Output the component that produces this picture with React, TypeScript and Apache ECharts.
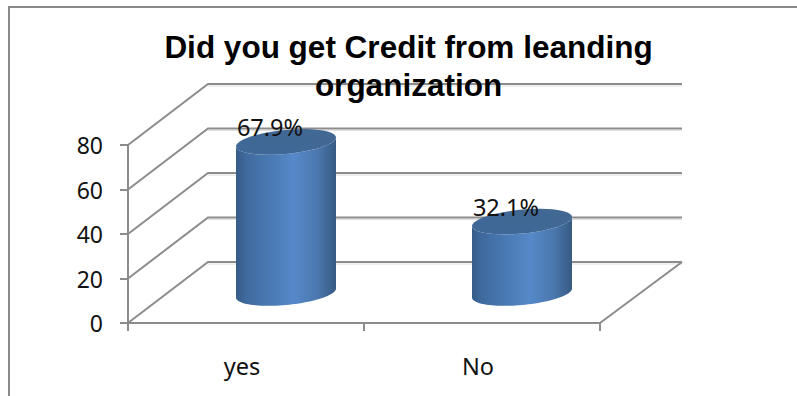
import React, { useEffect, useRef } from "react";
import * as echarts from "echarts";

const chartTitle = "Did you get Credit from leanding\norganization";
const categories = ["yes", "No"];
const creditShares = [67.9, 32.1];
const yTicks = [0, 20, 40, 60, 80];

const LABEL_FONT = "'Noto Sans', sans-serif";
const LINE = "#8c8c8c";
const SHADE = "#dedede";

// Oblique projection of the chart's floor.
const DEPTH_X = 80;
const DEPTH_Y = 61;
const BAR_DEPTH_X = 40;
const BAR_DEPTH_Y = 30;
const RADIUS_X = 50;
const RADIUS_Y = 12;
const TILT = -4.5 / 50;

// Points of a sheared ellipse between two angles.
function arcPoints(cx: number, cy: number, from: number, to: number): number[][] {
  const steps = 48;
  const pts: number[][] = [];
  for (let i = 0; i <= steps; i++) {
    const t = from + ((to - from) * i) / steps;
    const dx = RADIUS_X * Math.cos(t);
    pts.push([cx + dx, cy + dx * TILT + RADIUS_Y * Math.sin(t)]);
  }
  return pts;
}

const bodyFill = new echarts.graphic.LinearGradient(0, 0, 1, 0, [
  { offset: 0, color: "#365b86" },
  { offset: 0.1, color: "#3f6a9e" },
  { offset: 0.35, color: "#4a7ab5" },
  { offset: 0.58, color: "#5689c9" },
  { offset: 0.82, color: "#4a77ae" },
  { offset: 1, color: "#375a82" },
]);

const topFill = new echarts.graphic.LinearGradient(0, 1, 1, 0, [
  { offset: 0, color: "#3f6899" },
  { offset: 1, color: "#426892" },
]);

function renderFrame(params: any, api: any) {
  const rect = params.coordSys;
  const y = api.coord([0, api.value(1)])[1];
  const left = rect.x;
  const right = rect.x + rect.width;
  const isFloor = api.value(1) === yTicks[0];
  const backY = y - DEPTH_Y;
  const children: any[] = [
    {
      type: "polyline",
      shape: { points: [[left + DEPTH_X, backY + 2], [right + DEPTH_X + 2, backY + 2]] },
      style: { stroke: SHADE, lineWidth: 1, fill: "none" },
    },
    {
      type: "polyline",
      shape: { points: [[left, y], [left + DEPTH_X, backY], [right + DEPTH_X + 2, backY]] },
      style: { stroke: LINE, lineWidth: 2, fill: "none" },
    },
  ];
  if (isFloor) {
    children.push({
      type: "line",
      shape: { x1: right, y1: y, x2: right + DEPTH_X + 2, y2: backY },
      style: { stroke: LINE, lineWidth: 2 },
    });
  }
  return { type: "group", children };
}

function renderCylinder(params: any, api: any) {
  const top = api.coord([api.value(0), api.value(1)]);
  const base = api.coord([api.value(0), 0]);
  const cx = top[0] + BAR_DEPTH_X;
  const topY = top[1] - BAR_DEPTH_Y;
  const baseY = base[1] - BAR_DEPTH_Y;
  const front = arcPoints(cx, baseY, 0, Math.PI);
  const upperEdge = arcPoints(cx, topY, Math.PI, 0);
  return {
    type: "group",
    children: [
      {
        type: "polygon",
        shape: { points: [...front, ...upperEdge] },
        style: { fill: bodyFill },
      },
      {
        type: "polygon",
        shape: { points: arcPoints(cx, topY, 0, Math.PI * 2) },
        style: { fill: topFill },
      },
      {
        type: "text",
        style: {
          x: cx - 16,
          y: topY - 15,
          text: `${api.value(1)}%`,
          fill: "#111111",
          font: `23.5px ${LABEL_FONT}`,
          align: "center",
          verticalAlign: "middle",
        },
      },
    ],
  };
}

export default function App() {
  const ref = useRef<HTMLDivElement>(null);

  useEffect(() => {
    const chart = echarts.init(ref.current!, undefined, { renderer: "svg" });
    chart.setOption({
      animation: false,
      backgroundColor: "#ffffff",
      title: {
        text: chartTitle,
        left: 403.5,
        top: 23,
        textAlign: "center",
        z: 20,
        textStyle: {
          fontFamily: "'Liberation Sans', Arial, sans-serif",
          fontWeight: "bold",
          fontSize: 31.5,
          lineHeight: 38,
          color: "#000000",
        },
      },
      grid: { left: 128, top: 145, width: 472, height: 178 },
      xAxis: {
        type: "category",
        data: categories,
        axisLine: { lineStyle: { color: LINE, width: 2 } },
        axisTick: { show: true, length: 8, lineStyle: { color: LINE, width: 2 } },
        axisLabel: {
          color: "#111111",
          fontFamily: LABEL_FONT,
          fontSize: 23.5,
          margin: 31,
          padding: [0, 8, 0, 0],
        },
      },
      yAxis: {
        type: "value",
        min: 0,
        max: 80,
        interval: 20,
        splitLine: { show: false },
        axisLine: { show: true, lineStyle: { color: LINE, width: 2 } },
        axisTick: { show: true, length: 8, lineStyle: { color: LINE, width: 2 } },
        axisLabel: {
          color: "#111111",
          fontFamily: LABEL_FONT,
          fontSize: 23,
          margin: 25,
          padding: [5, 0, 0, 0],
        },
      },
      graphic: [
        {
          type: "polyline",
          shape: { points: [[9, 396], [9, 7], [797, 7]] },
          style: { stroke: "#8a8a8a", lineWidth: 2, fill: "none" },
        },
      ],
      series: [
        {
          type: "custom",
          z: 1,
          renderItem: renderFrame,
          data: yTicks.map((tick) => [0, tick]),
          silent: true,
        },
        {
          type: "custom",
          z: 5,
          renderItem: renderCylinder,
          data: categories.map((_, i) => [i, creditShares[i]]),
          silent: true,
        },
      ],
    });
    return () => chart.dispose();
  }, []);

  return (
    <div
      ref={ref}
      style={{ position: "absolute", left: 0, top: 0, width: 797, height: 396 }}
    />
  );
}
